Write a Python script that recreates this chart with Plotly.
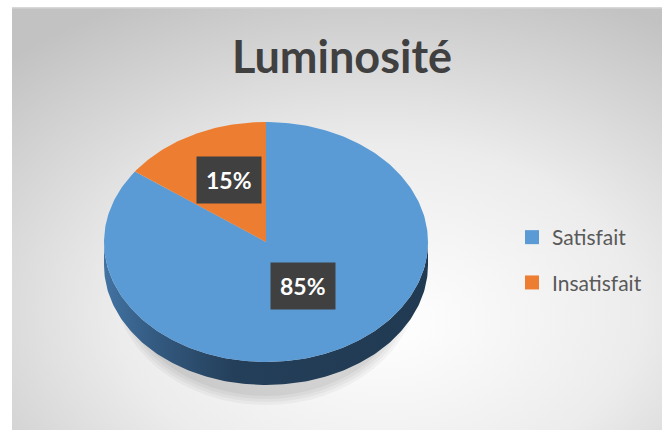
import base64
import numpy as np
import plotly.graph_objects as go

# ---- data ----
categories = ["Satisfait", "Insatisfait"]
values = [85, 15]
colors = ["#5B9BD5", "#ED7D31"]
title_text = "Luminosité"

# ---- geometry (pixel-like coordinate system) ----
W, H = 662, 430
CX, CY = 266, 242   # centre of top face
RX, RY = 162, 120   # radii of top face ellipse
DEPTH = 23          # thickness of the 3D side
LABEL_FRAC = 0.5

fig = go.Figure()

# soft shadow under pie
for k, a in enumerate([0.035, 0.035, 0.04, 0.045]):
    grow = 10 - 3 * k
    fig.add_shape(type="circle", xref="x", yref="y",
                  x0=CX - RX + 20 - grow, x1=CX + RX - 20 + grow,
                  y0=CY - RY + DEPTH + 25 - grow, y1=CY + RY + DEPTH + 10 + grow,
                  fillcolor=f"rgba(0,0,0,{a})", line_width=0, layer="below")

def ell(theta_deg, dy=0.0):
    t = np.radians(theta_deg)
    return CX + RX * np.cos(t), CY - RY * np.sin(t) + dy

# side (front lower half of the ellipse)
th = np.linspace(180, 360, 181)
xt, yt = ell(th)
xb, yb = ell(th[::-1], DEPTH)
fig.add_trace(go.Scatter(
    x=np.concatenate([xt, xb]), y=np.concatenate([yt, yb]),
    mode="lines", fill="toself", line=dict(width=0),
    fillgradient=dict(type="horizontal",
                      colorscale=[[0, "#4273a3"], [0.15, "#345b82"], [0.4, "#243f5a"], [1, "#213a52"]]),
    hoverinfo="skip", showlegend=False))

# top-face slices (start at 12 o'clock, clockwise)
total = sum(values)
cum = 0.0
label_pos = []
for cat, v, c in zip(categories, values, colors):
    a0 = 90 - 360 * cum / total
    a1 = 90 - 360 * (cum + v) / total
    th = np.linspace(a0, a1, max(int(abs(a1 - a0)), 2) + 1)
    xs, ys = ell(th)
    fig.add_trace(go.Scatter(
        x=np.concatenate([[CX], xs, [CX]]), y=np.concatenate([[CY], ys, [CY]]),
        mode="lines", fill="toself", fillcolor=c, line=dict(width=0, color=c),
        hoverinfo="skip", showlegend=False))
    mid = np.radians((a0 + a1) / 2)
    label_pos.append((CX + LABEL_FRAC * RX * np.cos(mid), CY - LABEL_FRAC * RY * np.sin(mid),
                      f"{round(100 * v / total)}%"))
    cum += v

for x, y, t in label_pos:
    fig.add_annotation(x=x, y=y, xref="x", yref="y", text=f"<b>{t}</b>", showarrow=False,
                       font=dict(family="Lato", size=23, color="white"), yshift=9,
                       bgcolor="#404040", borderpad=9)

# legend entries
for i, (cat, c) in enumerate(zip(categories, colors)):
    fig.add_trace(go.Scatter(x=[None], y=[None], mode="markers", name=cat,
                             legendgroup=f"g{i}",
                             marker=dict(symbol="square", size=14, color=c)))

# background gradient (radial) as an SVG image
svg = f"""<svg xmlns='http://www.w3.org/2000/svg' width='650' height='423' viewBox='0 0 650 423' preserveAspectRatio='none'>
<defs><radialGradient id='g' cx='55%' cy='70%' r='80%' fx='58%' fy='75%'>
<stop offset='0' stop-color='#ffffff'/><stop offset='0.5' stop-color='#ececec'/><stop offset='1' stop-color='#c2c2c2'/>
</radialGradient></defs><rect width='650' height='423' fill='url(#g)'/>
<rect width='650' height='1.5' fill='#d8d8d8'/></svg>"""
src = "data:image/svg+xml;base64," + base64.b64encode(svg.encode()).decode()
fig.add_layout_image(source=src, xref="paper", yref="paper", x=12 / W, y=1 - 7 / H,
                     sizex=(W - 12) / W, sizey=(H - 7) / H, xanchor="left", yanchor="top",
                     sizing="stretch", layer="below")

fig.update_layout(
    width=W, height=H, margin=dict(l=0, r=0, t=0, b=0),
    paper_bgcolor="white", plot_bgcolor="rgba(0,0,0,0)",
    xaxis=dict(range=[0, W], visible=False, fixedrange=True),
    yaxis=dict(range=[H, 0], visible=False, fixedrange=True),
    title=dict(text=f"<b>{title_text}</b>", x=342 / W, xanchor="center", y=1 - 57 / H, yanchor="middle",
               font=dict(family="Lato", size=45, color="#404040")),
    legend=dict(x=512 / W, xanchor="left", y=1 - 260 / H, yanchor="middle",
                font=dict(family="Lato", size=21, color="#595959"),
                bgcolor="rgba(0,0,0,0)", tracegroupgap=15, itemwidth=30),
    showlegend=True,
)

fig.write_html("out.html", config={"displayModeBar": False},
               post_script="document.body.style.margin='0';document.body.style.overflow='hidden';")
